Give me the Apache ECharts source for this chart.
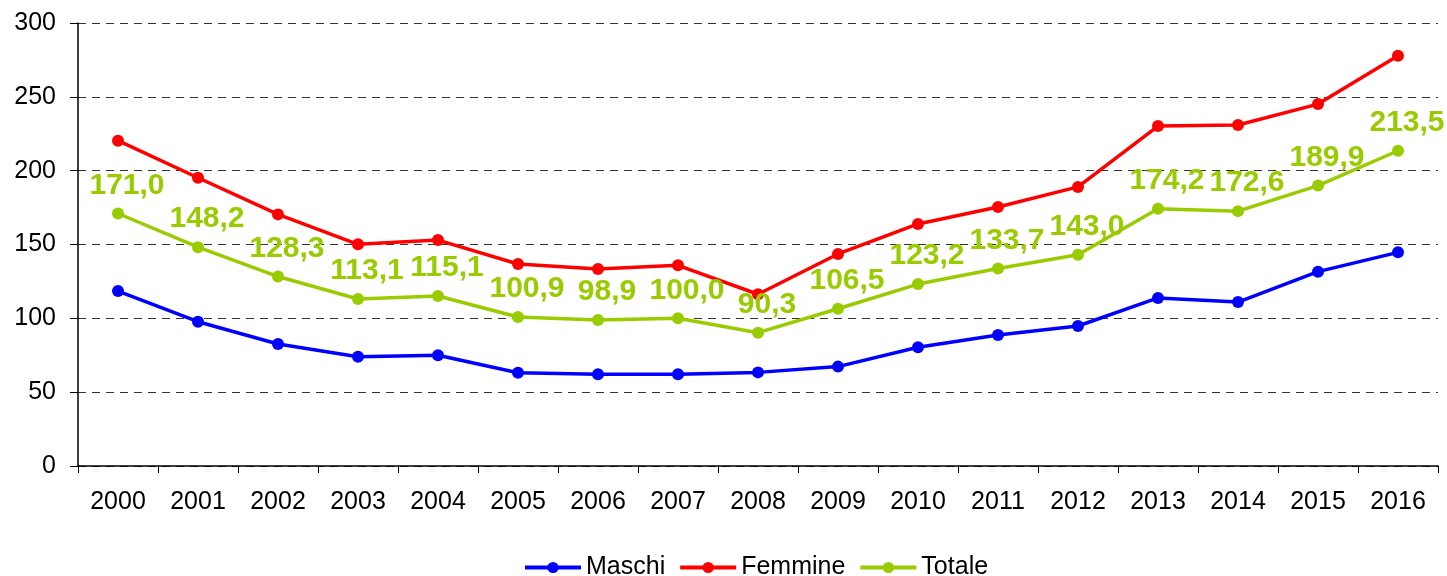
<!DOCTYPE html>
<html>
<head>
<meta charset="utf-8">
<script src="https://cdn.jsdelivr.net/npm/echarts@6/dist/echarts.min.js"></script>
<style>
  html, body { margin: 0; padding: 0; background: #fff; }
  #chart { width: 1447px; height: 576px; }
</style>
</head>
<body>
<div id="chart"></div>
<script>
// dati
var anni = ['2000', '2001', '2002', '2003', '2004', '2005', '2006', '2007', '2008',
  '2009', '2010', '2011', '2012', '2013', '2014', '2015', '2016']
var maschi = [118.5, 97.7, 82.6, 74.0, 75.0, 63.2, 62.1, 62.1, 63.4, 67.3, 80.4, 88.7, 94.8, 113.8, 111.0, 131.6, 144.7]
var femmine = [220.3, 195.2, 170.4, 150.1, 153.0, 136.8, 133.4, 135.9, 116.3, 143.6, 163.9, 175.4, 189.0, 230.2, 230.9, 245.1, 277.9]
var totale = [171.0, 148.2, 128.3, 113.1, 115.1, 100.9, 98.9, 100.0, 90.3, 106.5, 123.2, 133.7, 143.0, 174.2, 172.6, 189.9, 213.5]

var font = '"Liberation Sans", Arial, sans-serif'

function serie(name, color, data, showLabel) {
  return {
    name: name,
    type: 'line',
    data: data,
    symbol: 'circle',
    symbolSize: 12,
    lineStyle: { width: 3.5, color: color },
    itemStyle: { color: color },
    z: showLabel ? 3 : 2,
    label: {
      show: showLabel,
      position: 'top',
      distance: 7,
      offset: [9, 0],
      color: color,
      fontFamily: font,
      fontSize: 30,
      fontWeight: 'bold',
      formatter: function(p) {
        return p.value.toFixed(1).replace('.', ',')
      }
    }
  }
}

var chart = echarts.init(document.getElementById('chart'))
chart.setOption({
  animation: false,
  textStyle: { fontFamily: font },
  grid: { left: 78, right: 9, top: 23, bottom: 110 },
  legend: {
    top: 550,
    left: 518,
    itemWidth: 56,
    itemHeight: 14,
    itemGap: 13,
    lineStyle: { width: 4 },
    textStyle: { fontSize: 25, color: '#000', fontFamily: font },
    data: ['Maschi', 'Femmine', 'Totale']
  },
  xAxis: {
    type: 'category',
    data: anni,
    boundaryGap: true,
    axisLine: { lineStyle: { color: '#000', width: 1.5 } },
    axisTick: { show: true, length: 7, lineStyle: { color: '#000' } },
    axisLabel: { color: '#000', fontSize: 25, margin: 24 }
  },
  yAxis: {
    type: 'value',
    min: 0,
    max: 300,
    interval: 50,
    axisLine: { show: true, lineStyle: { color: '#000', width: 1.5 } },
    axisTick: { show: true, length: 8, lineStyle: { color: '#000' } },
    axisLabel: { color: '#000', fontSize: 25, margin: 22 },
    splitLine: { lineStyle: { type: [8, 6], color: '#333', width: 1 } }
  },
  series: [
    serie('Maschi', '#0000ff', maschi, false),
    serie('Femmine', '#ff0000', femmine, false),
    serie('Totale', '#99cc00', totale, true)
  ]
})
</script>
</body>
</html>
